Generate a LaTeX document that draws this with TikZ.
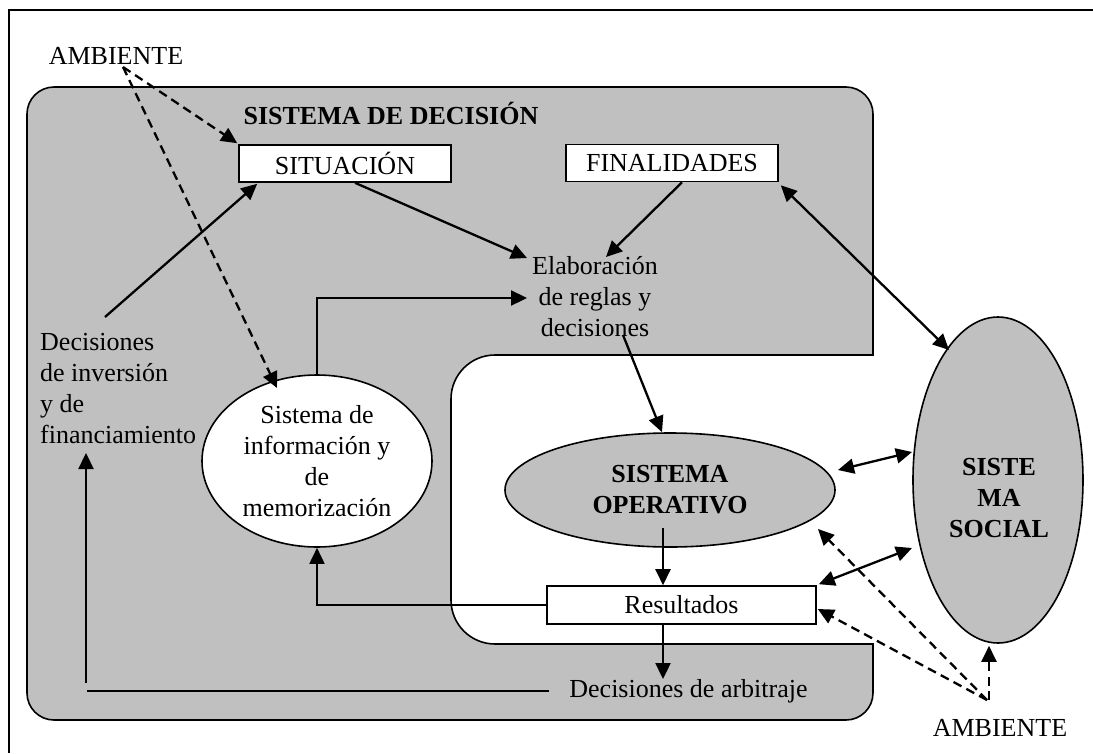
\documentclass[tikz,border=0pt]{standalone}
\usepackage{fontspec}
\setmainfont{Liberation Serif}
\usetikzlibrary{arrows.meta,calc,shapes.geometric}
\definecolor{grayfill}{RGB}{192,192,192}
\tikzset{
  txt/.style={font=\fontsize{26}{31}\selectfont, inner sep=0pt},
  boldtxt/.style={font=\fontsize{26}{31}\selectfont\bfseries, inner sep=0pt},
  boxnode/.style={txt, draw, fill=white, line width=1.6pt, minimum width=212pt, minimum height=37pt},
  ell/.style={ellipse, draw, line width=1.6pt},
  arr/.style={line width=2.3pt, -{Triangle[length=16pt,width=15pt]}},
  darr/.style={line width=2.3pt, {Triangle[length=16pt,width=15pt]}-{Triangle[length=16pt,width=15pt]}},
  dasharr/.style={arr, dash pattern=on 9pt off 5.5pt},
  plain/.style={line width=1.8pt},
}
\begin{document}
\begin{tikzpicture}[x=1pt,y=-1pt]
\useasboundingbox (0,0) rectangle (1093,753);
% page frame
\draw[line width=1.6pt] (9,753) -- (9,10) -- (1093,10);
% decision system region
\filldraw[fill=grayfill, draw=black, line width=1.6pt]
  (27,114) arc[start angle=180,end angle=270,radius=27]
  -- (846,87) arc[start angle=270,end angle=360,radius=27]
  -- (873,355) -- (495,355) arc[start angle=270,end angle=180,radius=44]
  -- (451,600) arc[start angle=180,end angle=90,radius=44]
  -- (873,644) -- (873,693) arc[start angle=0,end angle=90,radius=27]
  -- (54,720) arc[start angle=90,end angle=180,radius=27] -- cycle;

% nodes
\node[txt] (amb1) at (116,56) {AMBIENTE};
\node[boldtxt] (title) at (391,113) {SISTEMA DE DECISIÓN};
\node[boxnode] (sit) at (345,163.5) {SITUACIÓN};
\node[boxnode] (fin) at (672,163) {FINALIDADES};
\node[txt, align=center] (elab) at (595,297) {Elaboración\\de reglas y\\decisiones};
\node[txt, align=left, anchor=west] (dec) at (40,389) {Decisiones\\de inversión\\y de\\financiamiento};
\node[ell, txt, fill=white, minimum width=230pt, minimum height=172pt, align=center] (info) at (317,461) {Sistema de\\información y\\de\\memorización};
\node[ell, boldtxt, fill=grayfill, minimum width=330pt, minimum height=114pt, align=center] (oper) at (670,490) {SISTEMA\\OPERATIVO};
\node[ell, fill=grayfill, minimum width=170pt, minimum height=326pt, inner sep=0pt] (soc) at (998,480) {};
\node[boldtxt, align=center] (socT) at (999,498) {SISTE\\MA\\SOCIAL};
\node[boxnode, minimum width=269pt, minimum height=38pt] (res) at (681.5,605) {Resultados};
\node[txt] (arb) at (688.5,691) {Decisiones de arbitraje};
\node[txt] (amb2) at (1000,728) {AMBIENTE};

\coordinate (hl) at (87,691);
\coordinate (vb) at (86,683);
\coordinate (vt) at (86,453);
\coordinate (a2) at ($(amb2.center)+(-13,-28)$);
\coordinate (a1) at ($(amb1.center)+(7,11)$);

% connectors
\draw[arr] ($(dec.west)+(65,-72)$) -- ($(sit.south west)+(19,1)$);
\draw[arr] ($(sit.south)+(10,0)$) -- ($(elab.center)+(-68,-39)$);
\draw[arr] ($(fin.south)+(10,0)$) -- ($(elab.center)+(11,-40)$);
\draw[darr] ($(fin.south east)+(2,3)$) -- ($(soc.center)+(-49,-130)$);
\draw[arr] (info.north) |- ($(elab.center)+(-68,1)$);
\draw[arr] ($(elab.center)+(28,38)$) -- ($(oper.north)+(-8,0)$);
\draw[arr] ($(oper.center)+(-7,38)$) -- ($(res.north)+(-18.5,0)$);
\draw[arr] ($(res.south)+(-18.5,0)$) -- ($(arb.north)+(-25.5,0)$);
\draw[arr, line width=1.8pt] (res.west) -| (info.south);
\draw[plain] ($(arb.west)+(-20,0)$) -- (hl);
\draw[arr] (vb) -- (vt);
\draw[darr] ($(oper.center)+(168,-20)$) -- ($(soc.center)+(-86,-28)$);
\draw[darr] ($(res.north east)+(2,-1)$) -- ($(soc.center)+(-86,68)$);
\draw[dasharr] (a2) -- ($(oper.center)+(148,39)$);
\draw[dasharr] (a2) -- ($(res.east)+(1,4)$);
\draw[dasharr] ($(a2)+(2,0)$) -- ($(soc.south)+(-9,2)$);
\draw[dasharr] (a1) -- ($(sit.north west)+(-1,-1)$);
\draw[dasharr] (a1) -- ($(info.center)+(-40,-73)$);
\end{tikzpicture}
\end{document}
